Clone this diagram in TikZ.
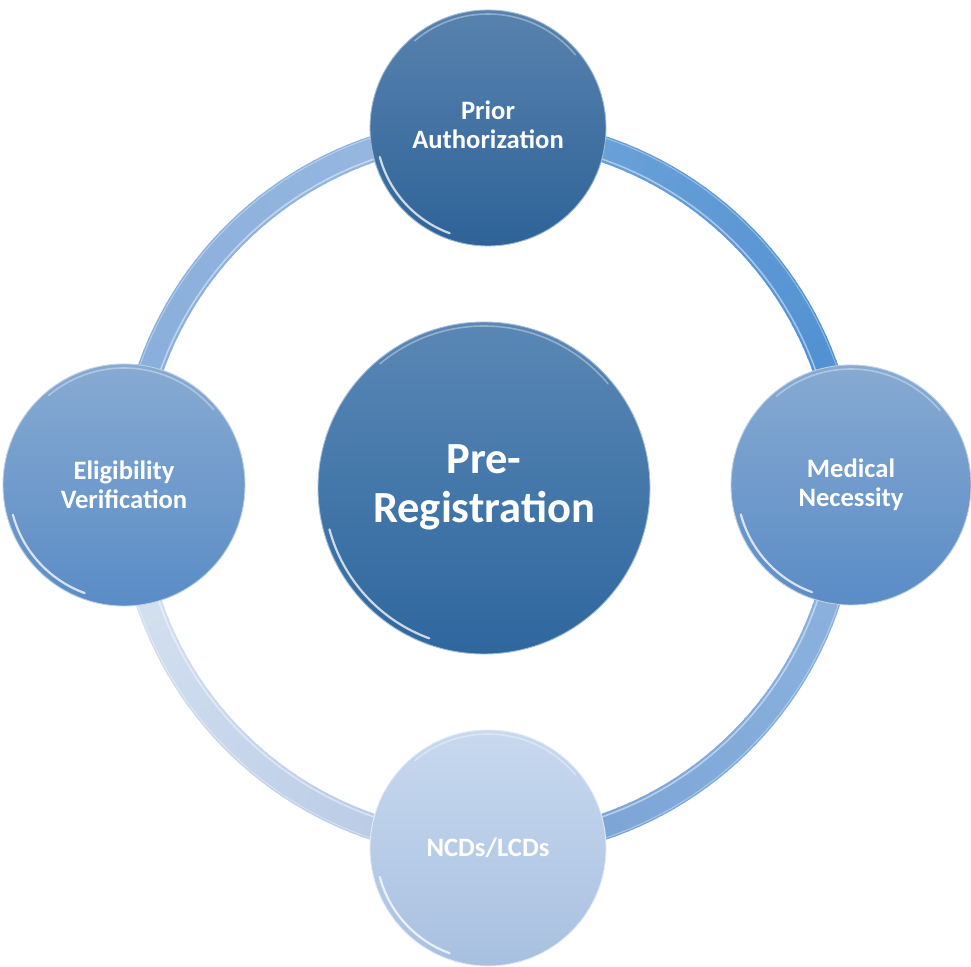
\documentclass[tikz,border=0pt]{standalone}
\usepackage{fontspec}
\setmainfont{Carlito}
% palette
\definecolor{preTop}{HTML}{5A87B5}\definecolor{preBot}{HTML}{2E679E}
\definecolor{priTop}{HTML}{5882AE}\definecolor{priBot}{HTML}{2E6398}
\definecolor{sideTop}{HTML}{87AAD2}\definecolor{sideBot}{HTML}{5A8CC6}
\definecolor{ncdTop}{HTML}{C8D9EF}\definecolor{ncdBot}{HTML}{A8C0E0}
\definecolor{tlA}{HTML}{98B9E1}\definecolor{tlB}{HTML}{86ACDA}
\definecolor{trA}{HTML}{4A8CD0}\definecolor{trB}{HTML}{70A5DA}
\definecolor{blA}{HTML}{DCE6F3}\definecolor{blB}{HTML}{B2C6E3}
\definecolor{brA}{HTML}{8FB5E0}\definecolor{brB}{HTML}{78A2D5}
\newcommand{\twolines}[3]{\raisebox{#1}{\begin{tabular}{@{}c@{}}#2\\#3\end{tabular}}}
\begin{document}
\begin{tikzpicture}[x=1pt,y=1pt,
  bubble/.style n args={3}{circle, inner sep=0pt, align=center, text=white,
    minimum size=#1, top color=#2, bottom color=#3,
    draw=#2!55!white, line width=0.9pt},
  ringpiece/.style={line width=26pt, line cap=butt}
]
\useasboundingbox (0,0) rectangle (971,966);

% hub of the ring
\coordinate (hub) at (488,478);
\def\R{358}

% ring arcs, each shaded along its length
\foreach \s/\ca/\cb in {0/trA/trB, 90/tlA/tlB, 180/blA/blB, 270/brB/brA}{
  \foreach \i in {0,...,44}{
    \pgfmathsetmacro\a{\s+\i*2}
    \pgfmathsetmacro\p{100-100*\i/44}
    \draw[ringpiece, color=\ca!\p!\cb] (hub) ++(\a:\R) arc[start angle=\a, end angle=\a+2.3, radius=\R];
  }
}
% light streaks along the edges
\draw[white, opacity=0.45, line width=1.6pt] (hub) circle[radius=\R-10];
\draw[white, opacity=0.35, line width=1pt] (hub) circle[radius=\R+11];

% circles
\node[bubble={332pt}{preTop}{preBot}, font=\bfseries\fontsize{44.5}{49}\selectfont]
  (pre) at (484,478) {\twolines{4pt}{Pre-}{Registration}};
\node[bubble={236pt}{priTop}{priBot}, font=\bfseries\fontsize{26.6}{29}\selectfont]
  (prior) at (488,838) {\twolines{6pt}{Prior}{Authorization}};
\node[bubble={242pt}{sideTop}{sideBot}, font=\bfseries\fontsize{26.6}{29}\selectfont]
  (elig) at (124,481) {Eligibility\\Verification};
\node[bubble={240pt}{sideTop}{sideBot}, font=\bfseries\fontsize{26.6}{29}\selectfont]
  (med) at (851,481) {Medical\\Necessity};
\node[bubble={236pt}{ncdTop}{ncdBot}, font=\bfseries\fontsize{26.6}{29}\selectfont]
  (ncd) at (488,118) {NCDs/LCDs};

% glossy highlights on each circle
\foreach \n/\r in {pre/166, prior/118, elig/121, med/120, ncd/118}{
  \draw[white, opacity=0.75, line width=2.2pt, line cap=round]
    (\n.center) ++(195:\r-6) arc[start angle=195, end angle=250, radius=\r-6];
  \draw[white, opacity=0.35, line width=1.6pt, line cap=round]
    (\n.center) ++(40:\r-4) arc[start angle=40, end angle=130, radius=\r-4];
}
\end{tikzpicture}
\end{document}
